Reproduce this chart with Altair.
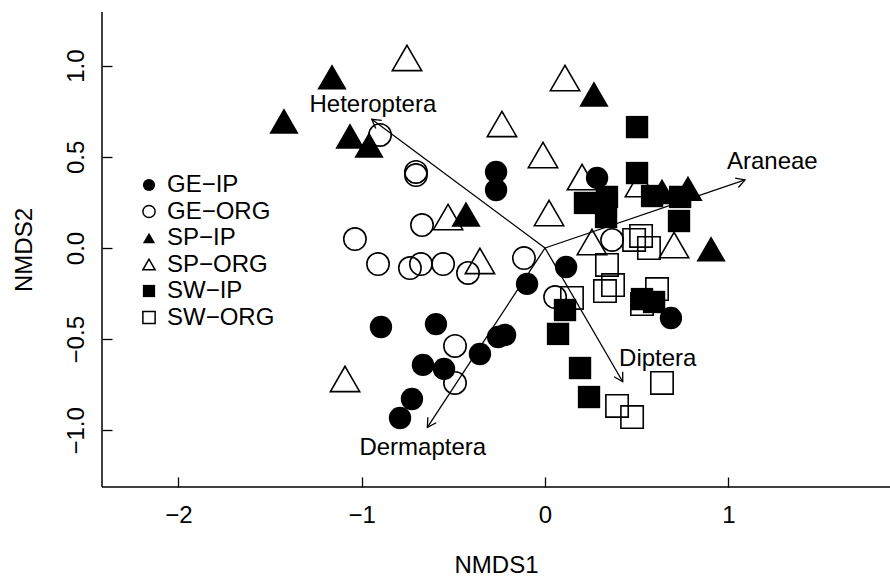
import altair as alt
import pandas as pd

# ---------------- data ----------------
GROUPS = ["GE−IP", "GE−ORG", "SP−IP", "SP−ORG", "SW−IP", "SW−ORG"]

ge_ip_x = [-0.267, -0.267, 0.284, -0.098, 0.115, -0.895, -0.595, -0.355, -0.256, -0.218, -0.666, -0.551, -0.726, -0.791, 0.687]
ge_ip_y = [0.417, 0.318, 0.384, -0.197, -0.104, -0.433, -0.417, -0.581, -0.488, -0.477, -0.641, -0.663, -0.828, -0.932, -0.384]

ge_org_x = [-0.900, -0.704, -0.704, -0.671, -1.037, -0.911, -0.737, -0.677, -0.556, -0.420, -0.115, -0.491, -0.491, 0.055, 0.366]
ge_org_y = [0.620, 0.417, 0.400, 0.126, 0.049, -0.088, -0.110, -0.088, -0.088, -0.137, -0.055, -0.537, -0.740, -0.269, 0.044]

sp_ip_x = [-1.424, -1.162, -1.064, -0.960, -0.431, 0.267, 0.638, 0.780, 0.906]
sp_ip_y = [0.696, 0.938, 0.614, 0.565, 0.186, 0.844, 0.310, 0.327, -0.005]

sp_org_x = [-0.753, 0.109, -0.235, -0.011, -0.529, 0.022, -0.355, 0.202, 0.518, 0.256, 0.704, -1.091]
sp_org_y = [1.042, 0.932, 0.680, 0.510, 0.170, 0.192, -0.071, 0.389, 0.351, 0.033, 0.016, -0.718]

sw_ip_x = [0.502, 0.502, 0.218, 0.338, 0.333, 0.584, 0.737, 0.731, 0.109, 0.071, 0.191, 0.240, 0.529, 0.595]
sw_ip_y = [0.663, 0.411, 0.247, 0.280, 0.170, 0.285, 0.280, 0.148, -0.340, -0.471, -0.658, -0.817, -0.280, -0.296]

sw_org_x = [0.147, 0.486, 0.524, 0.567, 0.338, 0.371, 0.327, 0.611, 0.529, 0.638, 0.393, 0.475]
sw_org_y = [-0.274, 0.044, 0.066, 0.000, -0.093, -0.203, -0.236, -0.225, -0.307, -0.740, -0.866, -0.927]

vec_names = ["Heteroptera", "Araneae", "Dermaptera", "Diptera"]
vec_x = [-0.945, 1.091, -0.642, 0.424]
vec_y = [0.706, 0.373, -0.983, -0.733]
lab_x = [-0.939, 1.240, -0.667, 0.615]
lab_y = [0.783, 0.473, -1.094, -0.611]

X_TICKS = [-2, -1, 0, 1]
Y_TICKS = [-1.0, -0.5, 0.0, 0.5, 1.0]
X_DOMAIN = [-2.4168, 1.882]
Y_DOMAIN = [-1.3103, 1.2939]

# ---------------- styles ----------------
SHAPES = ["circle", "circle", "triangle-up", "triangle-up", "square", "square"]
FILLS = ["black", "transparent", "black", "transparent", "black", "transparent"]
STROKES = ["transparent", "black", "transparent", "black", "transparent", "black"]
FONT = "Liberation Sans"

xs_list = [ge_ip_x, ge_org_x, sp_ip_x, sp_org_x, sw_ip_x, sw_org_x]
ys_list = [ge_ip_y, ge_org_y, sp_ip_y, sp_org_y, sw_ip_y, sw_org_y]
rows = []
for g, xs_, ys_ in zip(GROUPS, xs_list, ys_list):
    for a, b in zip(xs_, ys_):
        rows.append({"group": g, "NMDS1": a, "NMDS2": b})
pts = pd.DataFrame(rows)

vec = pd.DataFrame({"name": vec_names, "vx": vec_x, "vy": vec_y,
                    "lx": lab_x, "ly": lab_y, "ox": [0.0] * 4, "oy": [0.0] * 4})

frame = pd.DataFrame({
    "x": [X_DOMAIN[0], X_DOMAIN[0]], "x2": [X_DOMAIN[1], X_DOMAIN[0]],
    "y": [Y_DOMAIN[0], Y_DOMAIN[0]], "y2": [Y_DOMAIN[0], Y_DOMAIN[1]],
})

xs = alt.Scale(domain=X_DOMAIN, nice=False, zero=False)
ys = alt.Scale(domain=Y_DOMAIN, nice=False, zero=False)

x_axis = alt.Axis(values=X_TICKS, format="d", title="NMDS1", grid=False, domain=False,
                  offset=-10, tickSize=10, tickWidth=1.3, tickColor="black",
                  labelFontSize=24, labelPadding=16, labelColor="black", labelFont=FONT,
                  titleFontSize=24, titleFont=FONT, titleFontWeight="normal",
                  titleColor="black", titlePadding=26)
y_axis = alt.Axis(values=Y_TICKS, format=".1f", title="NMDS2", grid=False, domain=False,
                  offset=-10, tickSize=10, tickWidth=1.3, tickColor="black",
                  labelFontSize=24, labelPadding=19, labelColor="black", labelFont=FONT,
                  labelAngle=270, labelAlign="center", labelBaseline="alphabetic",
                  titleFontSize=24, titleFont=FONT, titleFontWeight="normal",
                  titleColor="black", titlePadding=28)

def X(field):
    return alt.X(field, type="quantitative", scale=xs, axis=x_axis, title="NMDS1")

def Y(field):
    return alt.Y(field, type="quantitative", scale=ys, axis=y_axis, title="NMDS2")

leg = alt.Legend(title=None, orient="none", legendX=35, legendY=161,
                 labelFontSize=24, labelFont=FONT, labelColor="black",
                 symbolSize=150, symbolStrokeWidth=1.5, symbolOpacity=1,
                 labelOffset=6, rowPadding=2.5, padding=0)

is_tri = "datum.group == 'SP−IP' || datum.group == 'SP−ORG'"

points = alt.Chart(pts).mark_point(filled=True, opacity=1, strokeWidth=1.6).encode(
    x=X("NMDS1"),
    y=Y("NMDS2"),
    shape=alt.Shape("group:N", scale=alt.Scale(domain=GROUPS, range=SHAPES), legend=leg),
    fill=alt.Fill("group:N", scale=alt.Scale(domain=GROUPS, range=FILLS), legend=leg),
    stroke=alt.Stroke("group:N", scale=alt.Scale(domain=GROUPS, range=STROKES), legend=leg),
    size=alt.condition(is_tri, alt.value(860), alt.value(500)),
)

frame_lines = alt.Chart(frame).mark_rule(color="black", strokeWidth=1.5).encode(
    x=X("x"), x2="x2:Q", y=Y("y"), y2="y2:Q",
)

arrow_lines = alt.Chart(vec).mark_rule(color="black", strokeWidth=1.3).encode(
    x=X("ox"), x2="vx:Q", y=Y("oy"), y2="vy:Q",
)

arrow_heads = alt.Chart(vec).transform_calculate(
    ang="(atan2(datum.vx, datum.vy) * 180 / PI + 360) % 360"
).mark_point(shape="M -0.577 1 L 0 0 L 0.577 1", filled=False, stroke="black",
             strokeWidth=1.3, size=300, opacity=1).encode(
    x=X("vx"), y=Y("vy"),
    angle=alt.Angle("ang:Q", scale=None),
)

arrow_text = alt.Chart(vec).mark_text(fontSize=24, font=FONT, color="black",
                                      align="center", baseline="middle").encode(
    x=X("lx"), y=Y("ly"),
    text="name:N",
)

chart = alt.layer(points, frame_lines, arrow_lines, arrow_heads, arrow_text).properties(
    width=788, height=475,
    padding={"left": 102, "top": 12, "right": 0, "bottom": 89},
    autosize=alt.AutoSizeParams(type="none"),
    background="white",
).configure_view(stroke=None)

chart.save("out.html", embed_options={"renderer": "svg", "actions": False})
